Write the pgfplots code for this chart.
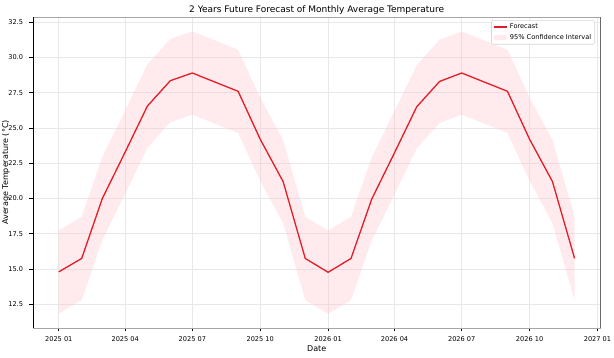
\documentclass[border=0pt]{standalone}
\usepackage{pgfplots}
\pgfplotsset{compat=1.18}
\usepgfplotslibrary{fillbetween}
\usepackage{pgfplotstable}
\usepackage{fontspec}
\setmainfont{DejaVu Sans}
\definecolor{fc}{RGB}{228,28,38}
\definecolor{bandc}{RGB}{255,192,203}
\definecolor{gridc}{RGB}{232,232,232}
\definecolor{spinec}{RGB}{165,165,165}
\definecolor{legc}{RGB}{215,215,215}

\pgfplotstableread{
day f up lo
0   14.80 17.75 11.85
31  15.75 18.70 12.80
59  20.00 22.95 17.05
90  23.30 26.25 20.35
120 26.55 29.50 23.60
151 28.35 31.30 25.40
181 28.90 31.85 25.95
212 28.25 31.20 25.30
243 27.60 30.55 24.65
273 24.20 27.15 21.25
304 21.20 24.15 18.25
334 15.75 18.70 12.80
365 14.77 17.72 11.82
396 15.75 18.70 12.80
424 19.95 22.90 17.00
455 23.25 26.20 20.30
485 26.50 29.45 23.55
516 28.30 31.25 25.35
546 28.90 31.85 25.95
577 28.25 31.20 25.30
608 27.60 30.55 24.65
638 24.20 27.15 21.25
669 21.20 24.15 18.25
699 15.75 18.70 12.80
}\data

\begin{document}
\begin{tikzpicture}
\begin{axis}[
  at={(0,0)}, anchor=south west,
  width=567.4pt, height=311pt, scale only axis,
  xmin=-34.95, xmax=733.95, ymin=10.82, ymax=32.87,
  xtick={0,90,181,273,365,455,546,638,730},
  xticklabels={2025 01,2025 04,2025 07,2025 10,2026 01,2026 04,2026 07,2026 10,2027 01},
  ytick={12.5,15,17.5,20,22.5,25,27.5,30,32.5},
  /pgf/number format/assume math mode=true,
  xtick pos=lower, ytick pos=left,
  tick align=outside, major tick length=3.5pt,
  tick style={black, line width=0.8pt},
  xticklabel style={font=\fontsize{6.6}{7}\selectfont, anchor=base, inner sep=0pt, yshift=-10pt},
  yticklabel style={font=\fontsize{6.6}{7}\selectfont, anchor=east, inner sep=0pt, xshift=-6.3pt,
    /pgf/number format/fixed, /pgf/number format/fixed zerofill, /pgf/number format/precision=1},
  grid=major, major grid style={gridc, line width=0.6pt},
  axis line style={spinec, line width=0.8pt},
  title={2 Years Future Forecast of Monthly Average Temperature},
  every axis title/.style={at={(axis description cs:0.5,1.0129)}, anchor=base, font=\fontsize{9}{10}\selectfont},
  xlabel={Date},
  ylabel={Average Temperature (°C)},
  every axis x label/.style={at={(axis description cs:0.5,-0.074)}, anchor=base, font=\fontsize{8}{9}\selectfont},
  every axis y label/.style={at={(axis description cs:-0.0476,0.5)}, rotate=90, anchor=center, font=\fontsize{8}{9}\selectfont},
  legend style={at={(axis description cs:0.9905,0.990)}, anchor=north east, draw=legc, line width=0.6pt, rounded corners=1.5pt, font=\fontsize{6.6}{7.5}\selectfont, inner sep=1.5pt, row sep=0pt},
  legend cell align=left,
]
\addplot[name path=U, draw=none, forget plot] table[x=day,y=up]{\data};
\addplot[name path=L, draw=none, forget plot] table[x=day,y=lo]{\data};
\addlegendimage{legend image code/.code={\draw[fc, line width=1.4pt] (0pt,0pt) -- (13.6pt,0pt);}}
\addlegendentry{Forecast}
\addplot[fill=bandc, fill opacity=0.32, draw=none,
  legend image code/.code={\fill[bandc, fill opacity=0.32] (0pt,-2.7pt) rectangle (13.6pt,2.7pt);}]
  fill between[of=U and L];
\addlegendentry{95\% Confidence Interval}
\addplot[fc, line width=1.3pt, forget plot] table[x=day,y=f]{\data};
\draw[black, line width=0.8pt] (rel axis cs:0,0) -- (rel axis cs:0,1);
\draw[black, line width=0.8pt] (rel axis cs:1,0) -- (rel axis cs:1,1);
\end{axis}
\pgfresetboundingbox
\path[use as bounding box] (-33pt,-30pt) rectangle (581pt,328pt);
\end{tikzpicture}
\end{document}
